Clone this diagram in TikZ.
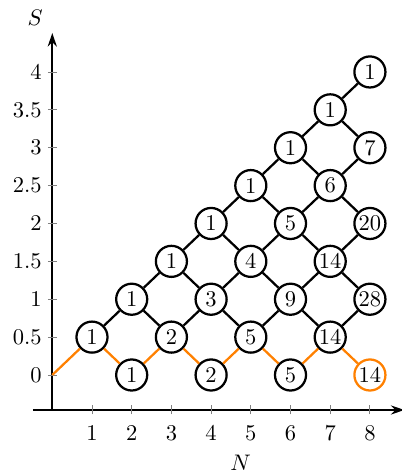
\documentclass[tikz,border=0pt]{standalone}
\usetikzlibrary{arrows.meta}
\begin{document}
\begin{tikzpicture}[x=0.62cm, y=1.183cm,
    estado/.style={circle, draw, line width=1pt, minimum size=4.85mm, inner sep=0pt, fill=white},
    arista/.style={line width=1pt},
    eje/.style={line width=1pt, -{Stealth[length=6pt, width=4pt]}},
    marca/.style={gray, line width=0.4pt}]
          % Marco
          \useasboundingbox (-1.317,-1.2805) rectangle (8.806,4.950);
          % Ejes
          \draw[eje] (-0.486,-0.462) -- (8.87,-0.462);
          \draw[eje] (0,-0.462) -- (0,4.515);
          \foreach \n in {1,...,8} {
            \draw[marca] (\n,-0.462) +(0,-2pt) -- +(0,2pt);
            \node[below=3.5pt] (tx\n) at (\n,-0.462) {$\n$};
          }
          \foreach \s [count=\i] in {0,0.5,1,1.5,2,2.5,3,3.5,4} {
            \draw[marca] (0,\s) +(-2pt,0) -- +(2pt,0);
            \node[left=1.2pt] (ty\i) at (0,\s) {$\s$};
          }
          \node (etqN) at (4.745,-1.162) {$N$};
          \node (etqS) at (-0.43,4.713) {$S$};
          % Origen
          \coordinate (o) at (0,0);
          % Estados
          \node[estado] (p11) at (1,0.5) {1};
          \node[estado] (p20) at (2,0) {1};
          \node[estado] (p22) at (2,1) {1};
          \node[estado] (p31) at (3,0.5) {2};
          \node[estado] (p33) at (3,1.5) {1};
          \node[estado] (p40) at (4,0) {2};
          \node[estado] (p42) at (4,1) {3};
          \node[estado] (p44) at (4,2) {1};
          \node[estado] (p51) at (5,0.5) {5};
          \node[estado] (p53) at (5,1.5) {4};
          \node[estado] (p55) at (5,2.5) {1};
          \node[estado] (p60) at (6,0) {5};
          \node[estado] (p62) at (6,1) {9};
          \node[estado] (p64) at (6,2) {5};
          \node[estado] (p66) at (6,3) {1};
          \node[estado] (p71) at (7,0.5) {14};
          \node[estado] (p73) at (7,1.5) {14};
          \node[estado] (p75) at (7,2.5) {6};
          \node[estado] (p77) at (7,3.5) {1};
          \node[estado, draw=orange] (p80) at (8,0) {14};
          \node[estado] (p82) at (8,1) {28};
          \node[estado] (p84) at (8,2) {20};
          \node[estado] (p86) at (8,3) {7};
          \node[estado] (p88) at (8,4) {1};
          % Aristas
          \foreach \a/\b in {p11/p22, p22/p31, p22/p33, p31/p42, p33/p42, p33/p44,
              p42/p51, p42/p53, p44/p53, p44/p55, p51/p62, p53/p62, p53/p64, p55/p64, p55/p66,
              p62/p71, p62/p73, p64/p73, p64/p75, p66/p75, p66/p77,
              p71/p82, p73/p82, p73/p84, p75/p84, p75/p86, p77/p86, p77/p88}
            \draw[arista] (\a) -- (\b);
          % Camino inferior
          \foreach \a/\b in {o/p11, p11/p20, p20/p31, p31/p40, p40/p51, p51/p60, p60/p71, p71/p80}
            \draw[arista, orange] (\a) -- (\b);
        \end{tikzpicture}
\end{document}
